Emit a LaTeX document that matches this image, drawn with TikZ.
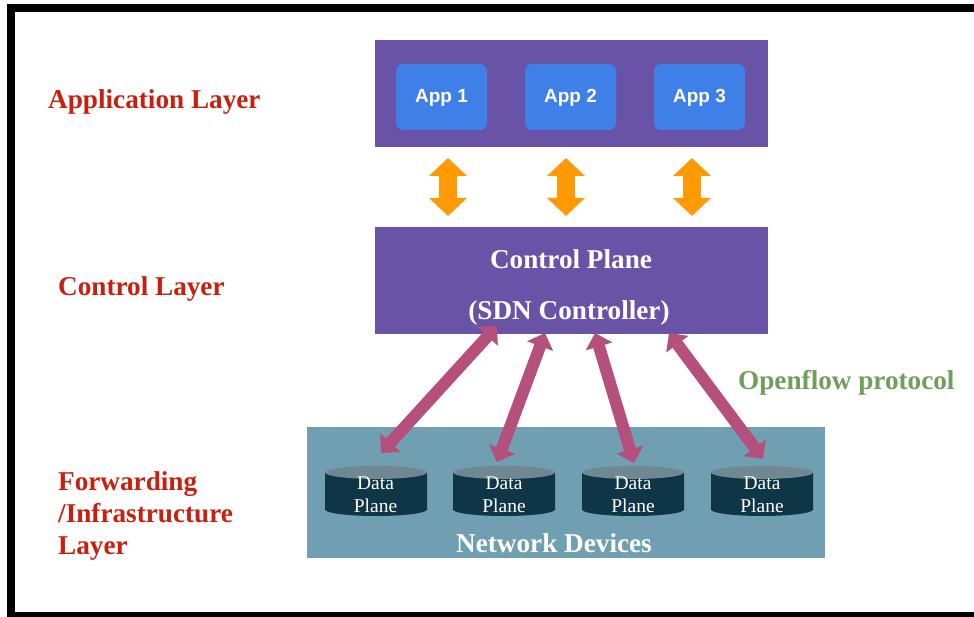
\documentclass[tikz,border=0pt]{standalone}
\usepackage{fontspec}
\setmainfont{Liberation Serif}
\newfontfamily\appfont{Liberation Sans}
\usetikzlibrary{arrows.meta}
\definecolor{purp}{HTML}{6853A6}
\definecolor{appblue}{HTML}{3F7FE8}
\definecolor{orng}{HTML}{FF9A05}
\definecolor{teal1}{HTML}{6F9FB0}
\definecolor{cylbody}{HTML}{0F3646}
\definecolor{cyltop}{HTML}{6F8892}
\definecolor{pinkarrow}{HTML}{B54F7C}
\definecolor{layerred}{HTML}{C8200F}
\definecolor{opengreen}{HTML}{6F9F5A}
\tikzset{
  x=1pt,y=-1pt,
  layerbox/.style={draw=none,fill=purp,inner sep=0,outer sep=0,anchor=north west},
  appbox/.style={fill=appblue,rounded corners=7pt,minimum width=91pt,minimum height=66pt,inner sep=0,text=white,text height=12pt,text depth=0pt,font=\appfont\bfseries\fontsize{19}{22}\selectfont},
  bigwhite/.style={text=white,font=\bfseries\fontsize{27.2}{32}\selectfont,inner sep=0,anchor=base},
  layerlabel/.style={text=layerred,font=\bfseries\fontsize{27.2}{32}\selectfont,align=left,anchor=base west,inner sep=0},
  dblabel/.style={text=white,font=\fontsize{19.5}{23}\selectfont,align=center,inner sep=0},
  ctrlarrow/.style={line width=18pt,orng,{Triangle[width=37pt,length=18pt]}-{Triangle[width=37pt,length=18pt]}},
  protoarrow/.style={line width=12pt,pinkarrow,{Triangle[width=27pt,length=14pt]}-{Triangle[width=27pt,length=14pt]}},
  pics/dbcyl/.style={code={
    \fill[cylbody] (-51,-18.5) -- (-51,18.5) arc[start angle=180,end angle=0,x radius=51,y radius=6.5] -- (51,-18.5) -- cycle;
    \fill[cyltop] (0,-18.5) ellipse[x radius=51,y radius=6.5];
  }},
}
\begin{document}
\begin{tikzpicture}
\useasboundingbox (0,0) rectangle (974,617);
\fill[white] (0,0) rectangle (974,617);
\fill[black] (7,4) rectangle (974,12);
\fill[black] (7,4) rectangle (15,617);
\fill[black] (7,612) rectangle (974,617);

\node[layerbox,minimum width=393pt,minimum height=107pt] (applayer) at (375,40) {};
\node[layerbox,minimum width=393pt,minimum height=107pt] (ctrl) at (375,227) {};
\node[layerbox,fill=teal1,minimum width=518pt,minimum height=131pt] (net) at (307,427) {};

\node[appbox] (app1) at (441.5,97) {App 1};
\node[appbox] (app2) at (570.5,97) {App 2};
\node[appbox] (app3) at (699.5,97) {App 3};

\node[bigwhite] (cp1) at (571,269) {Control Plane};
\node[bigwhite] (cp2) at (569,320) {(SDN Controller)};

\coordinate (o1a) at (448,158); \coordinate (o1b) at (448,216);
\coordinate (o2a) at (566,158); \coordinate (o2b) at (566,216);
\coordinate (o3a) at (692,158); \coordinate (o3b) at (692,216);
\draw[ctrlarrow] (o1a) -- (o1b);
\draw[ctrlarrow] (o2a) -- (o2b);
\draw[ctrlarrow] (o3a) -- (o3b);

\pic at (376,491) {dbcyl};
\pic at (504,491) {dbcyl};
\pic at (633,491) {dbcyl};
\pic at (762,491) {dbcyl};
\node[dblabel] (l1) at (375.5,495) {Data\\Plane};
\node[dblabel] (l2) at (504,495) {Data\\Plane};
\node[dblabel] (l3) at (633,495) {Data\\Plane};
\node[dblabel] (l4) at (762,495) {Data\\Plane};

\coordinate (p1a) at (497,326); \coordinate (p1b) at (381,453);
\coordinate (p2a) at (545,333); \coordinate (p2b) at (497,462);
\coordinate (p3a) at (595,333); \coordinate (p3b) at (634,463);
\coordinate (p4a) at (669,333); \coordinate (p4b) at (763,459);
\draw[protoarrow] (p1a) -- (p1b);
\draw[protoarrow] (p2a) -- (p2b);
\draw[protoarrow] (p3a) -- (p3b);
\draw[protoarrow] (p4a) -- (p4b);

\node[bigwhite] (nd) at (554,552) {Network Devices};

\node[layerlabel] (la) at (48,109) {Application Layer};
\node[layerlabel] (lc) at (58,296) {Control Layer};
\node[layerlabel] (lf1) at (58,490) {Forwarding};
\node[layerlabel] (lf2) at (58,522) {/Infrastructure};
\node[layerlabel] (lf3) at (58,554) {Layer};
\node[layerlabel,text=opengreen] (of) at (738,389) {Openflow protocol};
\end{tikzpicture}
\end{document}
